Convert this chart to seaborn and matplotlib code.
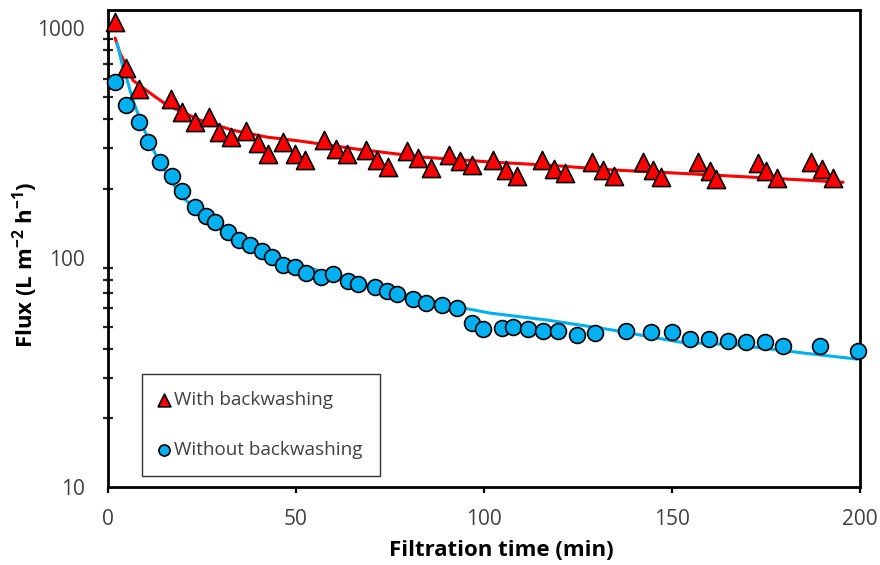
import numpy as np
import pandas as pd
import matplotlib
matplotlib.use("Agg")
import matplotlib.pyplot as plt
from matplotlib.ticker import LogLocator, NullFormatter, FixedLocator
import seaborn as sns

# Measured flux with backwashing (triangles)
bw_time = [1.9, 4.8, 8.2, 16.8, 19.7, 23.1, 26.9, 29.5, 32.7, 36.7, 39.9, 42.6,
           46.5, 49.7, 52.4, 57.4, 60.6, 63.6, 68.6, 71.5, 74.5, 79.5, 82.4, 85.9,
           90.7, 93.6, 96.8, 102.4, 105.9, 108.8, 115.4, 118.6, 121.5, 128.7, 131.6,
           134.6, 142.3, 144.9, 147.1, 156.9, 160.1, 161.7, 172.9, 175.0, 177.9,
           187.0, 189.9, 192.8]
bw_flux = [1062, 670, 542, 491, 430, 389, 409, 352, 335, 356, 315, 282,
           319, 282, 266, 325, 297, 282, 294, 266, 248, 291, 271, 245,
           280, 263, 253, 266, 241, 227, 266, 243, 233, 261, 241,
           227, 261, 241, 224, 261, 238, 220, 258, 238, 222,
           261, 243, 222]

# Measured flux without backwashing (circles)
nobw_time = [1.9, 4.8, 8.2, 10.6, 13.8, 17.0, 19.7, 23.1, 26.1, 28.5, 31.9, 34.8,
             37.8, 41.0, 43.6, 46.5, 49.7, 52.7, 56.6, 59.8, 63.8, 66.5, 71.0, 74.2,
             76.9, 81.1, 84.6, 88.8, 92.8, 96.8, 99.7, 104.8, 107.7, 111.7, 115.7,
             119.7, 124.7, 129.5, 137.8, 144.4, 150.0, 154.8, 159.8, 164.9, 169.7,
             174.7, 179.5, 189.4, 199.5]
nobw_flux = [582, 462, 389, 319, 261, 226, 195, 166, 152, 143, 129, 119,
             113, 107, 100.5, 93, 91, 85.6, 82.2, 84.8, 79, 76.6, 74.4, 71.4,
             69.3, 65.9, 63.3, 62.1, 60.3, 51.9, 48.8, 49.3, 49.8, 48.8, 47.8,
             47.8, 45.9, 46.9, 47.8, 47.3, 47.3, 44.1, 44.1, 43.3, 42.8,
             42.8, 41.1, 41.1, 39.1]

# Fitted trend curves
bw_fit_time = [1.9, 3.2, 5.1, 6.6, 11.2, 15.7, 24.5, 33.2, 42.3, 51.1, 66.2,
               83.8, 101.6, 116.8, 134.3, 152.1, 176.0, 195.5]
bw_fit_flux = [905, 778, 676, 593, 521, 462, 397, 359, 335, 322, 297,
               274, 261, 253, 241, 233, 222, 213]

nobw_fit_time = [2.4, 3.7, 5.1, 6.6, 9.3, 13.0, 16.5, 19.9, 24.5, 33.2, 42.3,
                 51.1, 66.0, 80.0, 94.4, 101.6, 116.8, 134.3, 152.1, 167.3,
                 184.8, 199.2]
nobw_fit_flux = [861, 704, 593, 486, 370, 274, 218, 183, 156, 123, 104.6,
                 92.7, 78.5, 68.5, 60.3, 57.3, 53.4, 48.3, 42.8, 41.6,
                 38.4, 36.1]

x_ticks = [0, 50, 100, 150, 200]
y_ticks = [10, 100, 1000]

RED = "#FF0000"
BLUE = "#00B0F0"

sns.set_theme(style="white")
plt.rcParams["font.family"] = ["Open Sans", "DejaVu Sans"]
plt.rcParams["mathtext.fontset"] = "custom"
plt.rcParams["mathtext.rm"] = "Open Sans"
plt.rcParams["mathtext.bf"] = "Open Sans:bold"

fig = plt.figure(figsize=(8.8, 5.65), dpi=100)
ax = fig.add_axes([108 / 880, 1 - 487 / 565, 752 / 880, 477 / 565])

bw_fit = pd.DataFrame({"t": bw_fit_time, "J": bw_fit_flux})
nobw_fit = pd.DataFrame({"t": nobw_fit_time, "J": nobw_fit_flux})
bw = pd.DataFrame({"t": bw_time, "J": bw_flux})
nobw = pd.DataFrame({"t": nobw_time, "J": nobw_flux})

sns.lineplot(data=bw_fit, x="t", y="J", color=RED, lw=2.2, ax=ax, zorder=2,
             estimator=None, sort=False)
sns.lineplot(data=nobw_fit, x="t", y="J", color=BLUE, lw=2.2, ax=ax, zorder=2,
             estimator=None, sort=False)
sns.scatterplot(data=bw, x="t", y="J", marker="^", s=170, color=RED,
                edgecolor="black", linewidth=1.2, ax=ax, zorder=3,
                label="With backwashing", clip_on=False)
sns.scatterplot(data=nobw, x="t", y="J", marker="o", s=130, color=BLUE,
                edgecolor="black", linewidth=1.2, ax=ax, zorder=3,
                label="Without backwashing", clip_on=False)

ax.set_yscale("log")
ax.set_xlim(0, 200)
ax.set_ylim(10, 1200)
ax.xaxis.set_major_locator(FixedLocator(x_ticks))
ax.set_xticklabels([str(v) for v in x_ticks])
ax.yaxis.set_major_locator(FixedLocator(y_ticks))
ax.set_yticklabels([str(v) for v in y_ticks])
ax.yaxis.set_minor_locator(LogLocator(base=10, subs=np.arange(2, 10)))
ax.yaxis.set_minor_formatter(NullFormatter())

for sp in ax.spines.values():
    sp.set_color("black")
    sp.set_linewidth(2.0)

ax.tick_params(axis="y", which="major", direction="inout", length=9, width=1.6,
               labelsize=15, colors="black", pad=12)
ax.tick_params(axis="y", which="minor", direction="inout", length=7, width=1.6,
               left=True)
ax.tick_params(axis="x", which="major", direction="out", length=4.5, width=1.6,
               labelsize=15, colors="black", pad=11, bottom=True)
for lab in ax.get_xticklabels() + ax.get_yticklabels():
    lab.set_color("#404040")

ax.set_xlabel("")
ax.set_ylabel("")
fig.text(501 / 880, 1 - 550 / 565, "Filtration time (min)", ha="center",
         va="center", fontsize=16, fontweight="bold", color="black")
fig.text(25 / 880, 1 - 265 / 565, r"Flux (L m$^{\mathbf{-2}}$ h$^{\mathbf{-1}}$)",
         ha="center", va="center", rotation=90, fontsize=16,
         fontweight="bold", color="black")

leg = ax.legend(loc="lower left", bbox_to_anchor=((142 - 108) / 752, (487 - 476) / 477),
                borderaxespad=0, frameon=True, fancybox=False, fontsize=13.6,
                labelspacing=1.7, handlelength=0.5, handletextpad=0.3,
                borderpad=0.9, markerscale=0.7)
leg.get_frame().set_edgecolor("black")
leg.get_frame().set_linewidth(1.0)
for t in leg.get_texts():
    t.set_color("#404040")

fig.savefig("out.png", dpi=100)
